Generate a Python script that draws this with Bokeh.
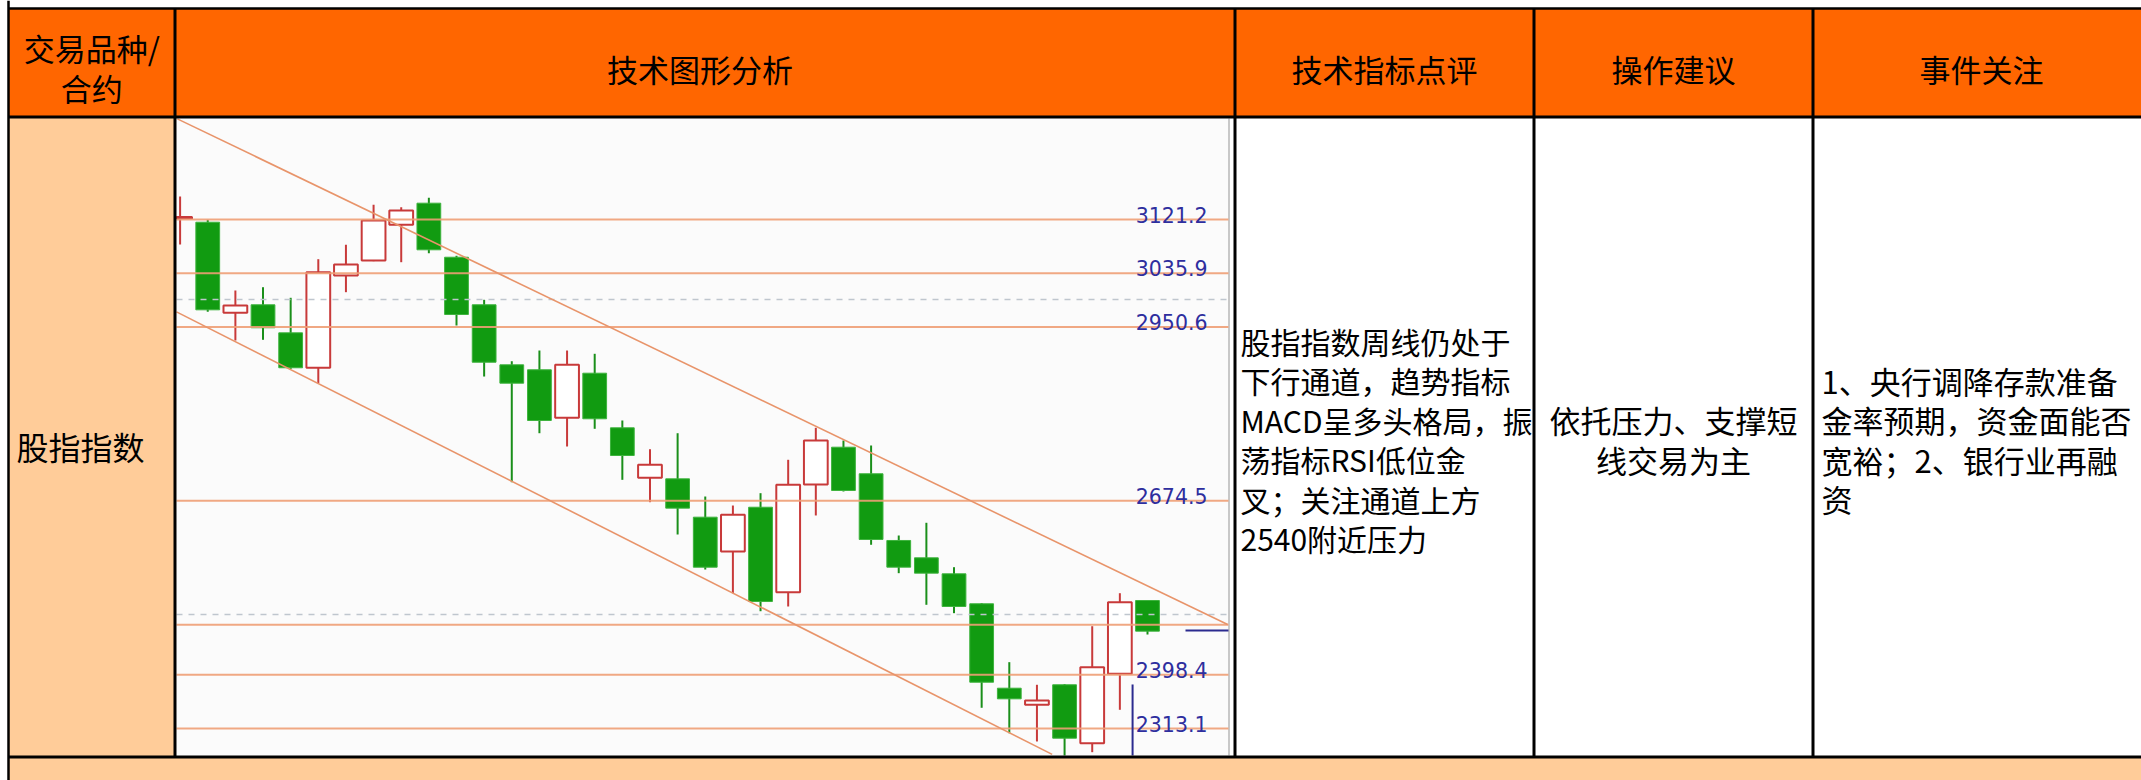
from bokeh.plotting import figure
from bokeh.models import Range1d, ColumnDataSource
from bokeh.embed import file_html
from bokeh.resources import INLINE
from bokeh.core.properties import value
import numpy as np

# ---------------- data ----------------
first_header = ["交易品种/", "合约"]
header_labels = ["技术图形分析", "技术指标点评", "操作建议", "事件关注"]
row_label = "股指指数"
indicator_lines = ["股指指数周线仍处于", "下行通道，趋势指标", "MACD呈多头格局，振",
                   "荡指标RSI低位金", "叉；关注通道上方", "2540附近压力"]
advice_lines = ["依托压力、支撑短", "线交易为主"]
event_lines = ["1、央行调降存款准备", "金率预期，资金面能否", "宽裕；2、银行业再融", "资"]

# weekly candles (index 0 .. 35)
candle_open = [3123.0, 3116.9, 2973.1, 2985.8, 2941.3, 2885.8, 3032.3, 3056.1, 3112.8, 3147.1,
               3061.3, 2985.8, 2890.5, 2882.6, 2806.4, 2877.2, 2790.5, 2711.1, 2709.5, 2648.6,
               2594.1, 2664.4, 2529.5, 2700.5, 2759.7, 2717.5, 2611.6, 2584.1, 2558.7, 2511.1,
               2377.1, 2350.7, 2382.5, 2289.8, 2399.9, 2516.3]
candle_high = [3157.7, 3120.7, 3008.5, 3013.7, 2996.9, 3058.2, 3081.0, 3144.5, 3140.7, 3155.6,
               3063.6, 2993.7, 2896.2, 2913.2, 2913.2, 2908.0, 2802.1, 2756.5, 2781.9, 2681.4,
               2667.1, 2686.7, 2739.7, 2790.5, 2770.3, 2762.4, 2619.5, 2639.7, 2569.2, 2512.0,
               2418.4, 2382.5, 2383.5, 2475.5, 2527.9, 2517.0]
candle_low = [3081.5, 2974.7, 2929.1, 2930.2, 2884.0, 2861.3, 3005.8, 3055.0, 3053.4, 3067.7,
              2952.9, 2871.9, 2704.1, 2781.9, 2760.8, 2788.9, 2707.9, 2672.4, 2621.1, 2565.5,
              2527.9, 2499.3, 2506.8, 2651.3, 2689.4, 2604.8, 2559.7, 2509.5, 2496.2, 2346.0,
              2305.6, 2292.5, 2262.0, 2275.5, 2342.8, 2462.3]
candle_close = [3125.0, 2977.8, 2984.7, 2949.3, 2885.8, 3037.5, 3049.8, 3119.6, 3135.5, 3073.1,
                2970.4, 2894.6, 2861.3, 2802.1, 2890.5, 2804.8, 2746.5, 2731.8, 2662.9, 2569.2,
                2652.4, 2514.7, 2700.0, 2770.3, 2691.0, 2613.2, 2569.2, 2559.7, 2506.8, 2386.6,
                2360.2, 2357.6, 2297.7, 2410.4, 2513.6, 2467.6]

level_values = [3121.2, 3035.9, 2950.6, 2674.5, 2478.0, 2398.4, 2313.1]
level_labels = ["3121.2", "3035.9", "2950.6", "2674.5", "", "2398.4", "2313.1"]
dashed_values = [2994.2, 2494.1]
channel_upper_idx = [-0.1, 37.9]
channel_upper_price = [3281.0, 2478.2]
channel_lower_idx = [-0.13, 31.55]
channel_lower_price = [2974.5, 2272.0]
marker_h_price = [2468.7]
marker_v_idx = [34.46]
marker_v_top = [2383.0]

# ---------------- layout (pixels of the picture) ----------------
W, H = 2141, 780
LEFT, RIGHT = 8, 2160
TOP, HDR_B, ROW_B, BOTTOM = 8, 116.5, 756.5, 790
COLS = [LEFT, 174.5, 1234.5, 1533.5, 1812.5]
CH_L, CH_R, CH_T, CH_B = 176, 1228, 118, 755
X0, DX = 179.6, 27.64            # pixel of candle 0, pixels per candle
Y_A, Y_B = 219.0, 728.0          # pixel rows of first and last level
PPP = (level_values[0] - level_values[-1]) / (Y_B - Y_A)


def price_of(ypix):
    return level_values[0] - (ypix - Y_A) * PPP


def idx_of(xpix):
    return (xpix - X0) / DX


p = figure(width=W, height=H, x_range=Range1d(0, W), y_range=Range1d(H, 0),
           output_backend="svg", toolbar_location=None, tools="",
           x_axis_location=None, y_axis_location=None, min_border=0)
p.outline_line_color = None
p.background_fill_color = "white"
p.border_fill_color = "white"
p.xgrid.grid_line_color = None
p.ygrid.grid_line_color = None
p.grid.visible = False
p.extra_x_ranges = {"idx": Range1d(idx_of(0), idx_of(W))}
p.extra_y_ranges = {"px": Range1d(price_of(H), price_of(0))}

# ---------------- table backgrounds ----------------
p.quad(left=[LEFT], right=[RIGHT], top=[TOP], bottom=[HDR_B], fill_color="#FF6600", line_color=None)
p.quad(left=[LEFT], right=[COLS[1]], top=[HDR_B], bottom=[ROW_B], fill_color="#FFCC99", line_color=None)
p.quad(left=[LEFT], right=[RIGHT], top=[ROW_B], bottom=[BOTTOM], fill_color="#FFCC99", line_color=None)
p.quad(left=[CH_L], right=[CH_R], top=[CH_T], bottom=[CH_B], fill_color="#FBFBFB", line_color=None)
p.segment(x0=[CH_R + 0.5], x1=[CH_R + 0.5], y0=[CH_T], y1=[CH_B], line_color="#C8C8C8", line_width=2)

# ---------------- chart ----------------
o = np.array(candle_open); h = np.array(candle_high)
l = np.array(candle_low); c = np.array(candle_close)
idx = np.arange(len(o), dtype=float)
ymin = price_of(CH_B)
ymax = price_of(CH_T)
lo_clip = np.maximum(l, ymin)
hi_clip = np.minimum(h, ymax)
half = 0.43
lft = np.maximum(idx - half, idx_of(CH_L))
rgt = np.minimum(idx + half, idx_of(CH_R))
up = c >= o
body_top = np.maximum(o, c)
body_bot = np.minimum(o, c)

green = "#119B11"
red = "#C83A3A"
src_up = ColumnDataSource(dict(x=idx[up], hi=hi_clip[up], lo=lo_clip[up], l=lft[up], r=rgt[up],
                               t=body_top[up], b=body_bot[up]))
src_dn = ColumnDataSource(dict(x=idx[~up], hi=hi_clip[~up], lo=lo_clip[~up], l=lft[~up], r=rgt[~up],
                               t=body_top[~up], b=body_bot[~up]))

p.segment(x0="x", x1="x", y0="hi", y1="lo", source=src_dn, line_color="#1A8F1A", line_width=2,
          x_range_name="idx", y_range_name="px")
p.quad(left="l", right="r", top="t", bottom="b", source=src_dn, fill_color=green,
       line_color="#3DB33D", line_width=1, x_range_name="idx", y_range_name="px")
p.segment(x0="x", x1="x", y0="hi", y1="lo", source=src_up, line_color=red, line_width=2,
          x_range_name="idx", y_range_name="px")
p.quad(left="l", right="r", top="t", bottom="b", source=src_up, fill_color="white",
       line_color=red, line_width=2, x_range_name="idx", y_range_name="px")

# horizontal levels
p.segment(x0=[CH_L] * len(level_values), x1=[CH_R] * len(level_values), y0=level_values, y1=level_values,
          line_color="#EE9E76", line_width=2, line_alpha=0.9, y_range_name="px")
p.segment(x0=[CH_L] * len(dashed_values), x1=[CH_R] * len(dashed_values), y0=dashed_values, y1=dashed_values,
          line_color="#BFC6CE", line_width=1.5, line_dash="6 6", y_range_name="px")
# channel
p.line(x=channel_upper_idx, y=channel_upper_price, line_color="#E8946A", line_width=1.6,
       x_range_name="idx", y_range_name="px")
p.line(x=channel_lower_idx, y=channel_lower_price, line_color="#E8946A", line_width=1.6,
       x_range_name="idx", y_range_name="px")

# level labels
lab_src = ColumnDataSource(dict(x=[1207] * len(level_values), y=level_values, t=level_labels))
p.text(x="x", y="y", text="t", source=lab_src, y_range_name="px", text_align="right",
       text_baseline="alphabetic", y_offset=-5, text_color="#2E2E9E",
       text_font=value("DejaVu Sans"), text_font_size="20.5px")

# blue markers
p.segment(x0=[1185], x1=[CH_R], y0=marker_h_price, y1=marker_h_price, line_color="#2B2B8F",
          line_width=2, y_range_name="px")
p.segment(x0=marker_v_idx, x1=marker_v_idx, y0=marker_v_top, y1=[ymin], line_color="#2B2B8F",
          line_width=2, x_range_name="idx", y_range_name="px")

# ---------------- borders ----------------
p.segment(x0=[LEFT], x1=[RIGHT], y0=[TOP], y1=[TOP], line_color="black", line_width=2.5)
p.segment(x0=[LEFT], x1=[LEFT], y0=[0], y1=[BOTTOM], line_color="black", line_width=2.5)
p.segment(x0=[LEFT, LEFT], x1=[RIGHT, RIGHT], y0=[HDR_B, ROW_B], y1=[HDR_B, ROW_B],
          line_color="black", line_width=3)
p.segment(x0=COLS[1:], x1=COLS[1:], y0=[TOP] * 4, y1=[ROW_B] * 4, line_color="black", line_width=3)

# ---------------- texts ----------------
CJK = value("Noto Sans CJK SC")
col_centers = [(COLS[1] + COLS[2]) / 2 - 5, (COLS[2] + COLS[3]) / 2, (COLS[3] + COLS[4]) / 2, 1981]
p.text(x=[(LEFT + COLS[1]) / 2] * 2, y=[47, 87], text=first_header, text_font=CJK,
       text_font_size="31px", text_align="center", text_baseline="middle", text_color="black")
p.text(x=col_centers, y=[68] * 4, text=header_labels, text_font=CJK,
       text_font_size="31px", text_align="center", text_baseline="middle", text_color="black")
p.text(x=[16], y=[445], text=[row_label], text_font=CJK, text_font_size="32px",
       text_align="left", text_baseline="middle", text_color="black")

LINE_Y = [340, 379.5, 419, 458.5, 498, 537.5]
p.text(x=[1240] * len(indicator_lines), y=LINE_Y, text=indicator_lines, text_font=CJK,
       text_font_size="30px", text_align="left", text_baseline="middle", text_color="black")
p.text(x=[(COLS[3] + COLS[4]) / 2] * 2, y=LINE_Y[2:4], text=advice_lines, text_font=CJK,
       text_font_size="31px", text_align="center", text_baseline="middle", text_color="black")
p.text(x=[1821] * len(event_lines), y=LINE_Y[1:5], text=event_lines, text_font=CJK,
       text_font_size="31px", text_align="left", text_baseline="middle", text_color="black")

open("out.html", "w").write(file_html(p, INLINE))
